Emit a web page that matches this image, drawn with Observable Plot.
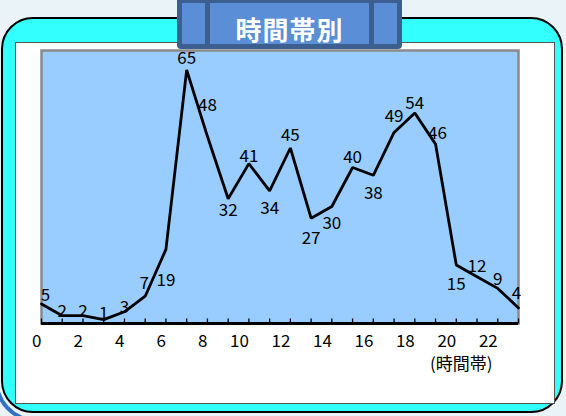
<!DOCTYPE html>
<html><head><meta charset="utf-8">
<script src="https://cdn.jsdelivr.net/npm/d3@7"></script>
<script src="https://cdn.jsdelivr.net/npm/@observablehq/plot@0.6"></script>
<style>
html,body{margin:0;padding:0;background:#e9f3f8;}
#wrap{position:relative;width:566px;height:416px;overflow:hidden;background:#e9f3f8;font-family:"Noto Sans CJK JP","Noto Sans",sans-serif;}
.deco{position:absolute;box-sizing:border-box;}
#cyan{left:1px;top:17px;width:562px;height:396px;background:#33ffff;border:2px solid #000;border-radius:32px;}
#white{left:15px;top:42px;width:540px;height:362px;background:#fff;border:1.5px solid #555;}
#titlebox{left:177px;top:-3px;width:225px;height:52px;background:#3c5f90;border-radius:4px;}
.panel{position:absolute;top:6px;height:41px;background:#5a8ed6;}
#title{position:absolute;left:210px;top:15px;width:159px;height:28px;line-height:28px;text-align:center;color:#fff;font-weight:bold;font-size:26px;letter-spacing:1px;}
#chart{position:absolute;left:0;top:0;}
#arc{position:absolute;left:0;top:0;}
</style>
</head><body>
<div id="wrap">
  <svg id="arc" width="566" height="416"><path d="M -2 392 Q 4 410 22 418" fill="none" stroke="#2e72c6" stroke-width="4"/></svg>
  <div class="deco" id="cyan"></div>
  <div class="deco" id="white"></div>
  <div id="chart"></div>
  <div class="deco" id="titlebox">
    <div class="panel" style="left:5px;width:23px"></div>
    <div class="panel" style="left:33px;width:159px"></div>
    <div class="panel" style="left:197px;width:23px"></div>
  </div>
  <div id="title">時間帯別</div>
</div>
<script>
// ---- data ----
const titleText = "時間帯別";
const axisTitle = "(時間帯)";
const hours = [0,1,2,3,4,5,6,7,8,9,10,11,12,13,14,15,16,17,18,19,20,21,22,23];
const counts = [5,2,2,1,3,7,19,65,48,32,41,34,45,27,30,40,38,49,54,46,15,12,9,4];
const xTickLabels = [0,2,4,6,8,10,12,14,16,18,20,22];

// ---- label placement (style) ----
const labelDy = [-8,-4,-4,-6,-4,-13,31,-11,-31,12,-7,18,-12,20,17,-10,18,-16,-9,-11,20,-10,-9,-14];
const labelDx = [4,0,0,0,0,-1,0,0,0,0,0,0,0,0,0,0,0,0,0,2,0,0,0,-2];

const data = hours.map((h, i) => ({hour: h, count: counts[i], dy: labelDy[i], dx: labelDx[i]}));
const groups = d3.groups(data, d => d.dy + "," + d.dx);

const tickSym = {draw(ctx) { ctx.moveTo(0, 0); ctx.lineTo(0, -5); }};
const font = '"Noto Sans CJK JP","Noto Sans",sans-serif';

const chart = Plot.plot({
  width: 566,
  height: 416,
  marginLeft: 41,
  marginRight: 48,
  marginTop: 50,
  marginBottom: 93,
  style: {background: "transparent", fontFamily: font, fontSize: "17px", color: "#000", overflow: "visible"},
  x: {domain: [0, 23], axis: null},
  y: {domain: [0, 70], axis: null},
  marks: [
    Plot.frame({fill: "#99ccff", stroke: "#8a8a8a", strokeWidth: 2.5}),
    Plot.dot(hours, {x: d => d, y: 0, symbol: tickSym, stroke: "#000", strokeWidth: 1.3, fill: "none"}),
    Plot.ruleY([0], {stroke: "#000", strokeWidth: 3}),
    Plot.line(data, {x: "hour", y: "count", stroke: "#000", strokeWidth: 2.8, strokeLinejoin: "miter"}),
    ...groups.map(([k, g]) => Plot.text(g, {x: "hour", y: "count", text: d => String(d.count), dy: g[0].dy, dx: g[0].dx, fontSize: 17, fill: "#000"})),
    Plot.text(xTickLabels, {x: d => d, frameAnchor: "bottom", dy: 23, textAnchor: "end", text: d => String(d), fontSize: 17, fill: "#000"}),
    Plot.text([axisTitle], {frameAnchor: "bottom-right", dx: -26, dy: 46, textAnchor: "end", fontSize: 17, fill: "#000"})
  ]
});
document.getElementById("chart").appendChild(chart);
document.getElementById("title").textContent = titleText;
</script>
</body></html>
